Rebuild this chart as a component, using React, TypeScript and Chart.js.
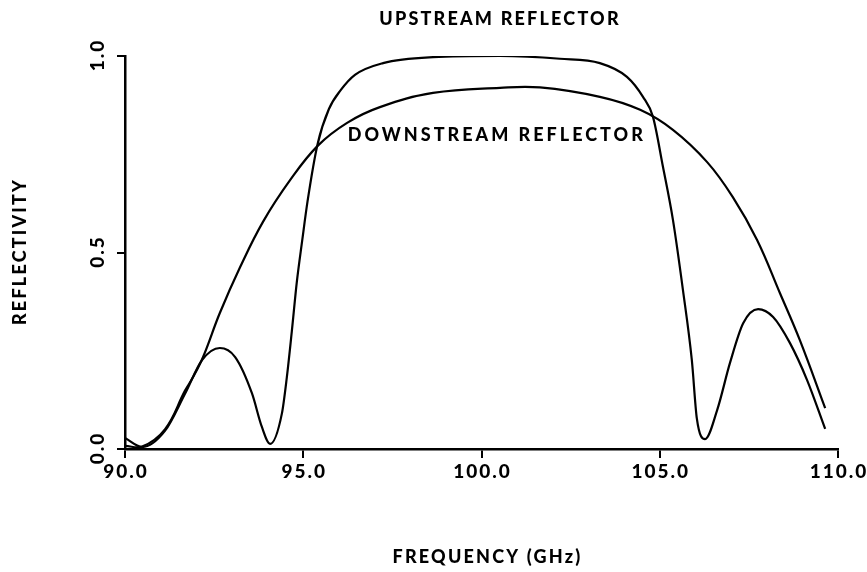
import React, { useEffect, useRef } from 'react';
import { Chart, registerables } from 'chart.js';

Chart.register(...registerables);

// Frequency (GHz) and reflectivity
const upstreamFreq = [90.0, 90.48, 91.12, 91.68, 92.16, 92.66, 93.09, 93.56, 93.84, 94.07, 94.4, 94.54, 94.68, 94.82, 94.97, 95.12, 95.4, 95.72, 96.05, 96.45, 97.24, 98.64, 100.52, 102.2, 103.32, 104.08, 104.53, 104.81, 105.09, 105.37, 105.65, 105.9, 106.04, 106.27, 106.61, 106.97, 107.34, 107.76, 108.18, 108.65, 109.13, 109.64];
const upstreamRefl = [0.028, 0.005, 0.046, 0.14, 0.226, 0.257, 0.234, 0.142, 0.056, 0.013, 0.09, 0.183, 0.3, 0.425, 0.53, 0.63, 0.775, 0.865, 0.913, 0.952, 0.982, 0.997, 1.0, 0.993, 0.982, 0.947, 0.896, 0.845, 0.718, 0.583, 0.405, 0.226, 0.078, 0.025, 0.099, 0.219, 0.32, 0.356, 0.336, 0.27, 0.176, 0.051];

const downstreamFreq = [90.0, 90.48, 91.12, 91.68, 91.91, 92.19, 92.66, 93.23, 93.87, 94.63, 95.41, 96.23, 97.15, 98.64, 100.52, 101.64, 103.32, 104.45, 105.37, 106.33, 107.05, 107.73, 108.37, 108.93, 109.64];
const downstreamRefl = [0.008, 0.006, 0.05, 0.148, 0.183, 0.234, 0.346, 0.463, 0.578, 0.684, 0.772, 0.83, 0.87, 0.906, 0.919, 0.92, 0.896, 0.863, 0.812, 0.73, 0.641, 0.532, 0.397, 0.277, 0.104];

const xTickValues = [90, 95, 100, 105, 110];
const xTickLabels = ['90.0', '95.0', '100.0', '105.0', '110.0'];
const yTickValues = [0, 0.5, 1.0];
const yTickLabels = ['0.0', '0.5', '1.0'];
const xTitle = 'FREQUENCY (GHz)';
const yTitle = 'REFLECTIVITY';
const upstreamLabel = 'UPSTREAM REFLECTOR';
const downstreamLabel = 'DOWNSTREAM REFLECTOR';

const FONT = '"Lato", "Open Sans", sans-serif';

const textPlugin = {
  id: 'textPlugin',
  afterDraw(chart: any) {
    const ctx = chart.ctx as CanvasRenderingContext2D;
    const xs = chart.scales.x;
    const ys = chart.scales.y;
    const area = chart.chartArea;
    ctx.save();
    ctx.fillStyle = '#000';
    ctx.textAlign = 'center';
    ctx.textBaseline = 'middle';
    (ctx as any).letterSpacing = '2px';

    // x tick labels
    ctx.font = `900 19px ${FONT}`;
    xTickValues.forEach((v, i) => {
      ctx.fillText(xTickLabels[i], xs.getPixelForValue(v) + 1, area.bottom + 23);
    });

    // y tick labels (rotated)
    yTickValues.forEach((v, i) => {
      ctx.save();
      ctx.translate(area.left - 27, ys.getPixelForValue(v));
      ctx.rotate(-Math.PI / 2);
      ctx.fillText(yTickLabels[i], 1, 0);
      ctx.restore();
    });

    // axis titles
    ctx.font = `900 18px ${FONT}`;
    (ctx as any).letterSpacing = '2.2px';
    ctx.fillText(xTitle, (area.left + area.right) / 2 + 6, area.bottom + 108);
    ctx.save();
    ctx.translate(area.left - 105, (area.top + area.bottom) / 2);
    ctx.rotate(-Math.PI / 2);
    ctx.fillText(yTitle, 1, 0);
    ctx.restore();

    // curve labels
    ctx.fillText(upstreamLabel, xs.getPixelForValue(100.52), ys.getPixelForValue(1.094));
    (ctx as any).letterSpacing = '3px';
    ctx.fillText(downstreamLabel, xs.getPixelForValue(100.43), ys.getPixelForValue(0.799));
    ctx.restore();
  },
};

export default function App() {
  const canvasRef = useRef<HTMLCanvasElement | null>(null);

  useEffect(() => {
    const canvas = canvasRef.current;
    if (!canvas) return;
    const toPoints = (xs: number[], ys: number[]) => xs.map((x, i) => ({ x, y: ys[i] }));
    const chart = new Chart(canvas, {
      type: 'line',
      data: {
        datasets: [
          {
            label: upstreamLabel,
            data: toPoints(upstreamFreq, upstreamRefl),
            borderColor: '#000',
            borderWidth: 2.2,
            pointRadius: 0,
            fill: false,
            cubicInterpolationMode: 'monotone',
          },
          {
            label: downstreamLabel,
            data: toPoints(downstreamFreq, downstreamRefl),
            borderColor: '#000',
            borderWidth: 2.2,
            pointRadius: 0,
            fill: false,
            tension: 0.4,
          },
        ],
      },
      options: {
        responsive: false,
        animation: false,
        devicePixelRatio: 1,
        layout: { padding: { top: 56, right: 29, left: 0, bottom: 0 } },
        plugins: {
          legend: { display: false },
          tooltip: { enabled: false },
          title: { display: false },
        },
        scales: {
          x: {
            type: 'linear',
            min: 90,
            max: 110,
            afterFit: (s: any) => { s.height = 123; },
            afterBuildTicks: (s: any) => { s.ticks = xTickValues.map((v) => ({ value: v })); },
            ticks: { display: false },
            grid: { drawOnChartArea: false, drawTicks: true, tickLength: 9, color: '#000', lineWidth: 2 },
            border: { display: true, color: '#000', width: 2.5 },
          },
          y: {
            type: 'linear',
            min: 0,
            max: 1,
            afterFit: (s: any) => { s.width = 125; },
            afterBuildTicks: (s: any) => { s.ticks = yTickValues.map((v) => ({ value: v })); },
            ticks: { display: false },
            grid: { drawOnChartArea: false, drawTicks: true, tickLength: 8, color: '#000', lineWidth: 2 },
            border: { display: true, color: '#000', width: 2.5 },
          },
        },
      },
      plugins: [textPlugin],
    });
    return () => chart.destroy();
  }, []);

  return (
    <div style={{ position: 'fixed', left: 0, top: 0, width: 867, height: 572, background: '#fff' }}>
      <canvas ref={canvasRef} width={867} height={572} style={{ width: 867, height: 572 }} />
    </div>
  );
}
